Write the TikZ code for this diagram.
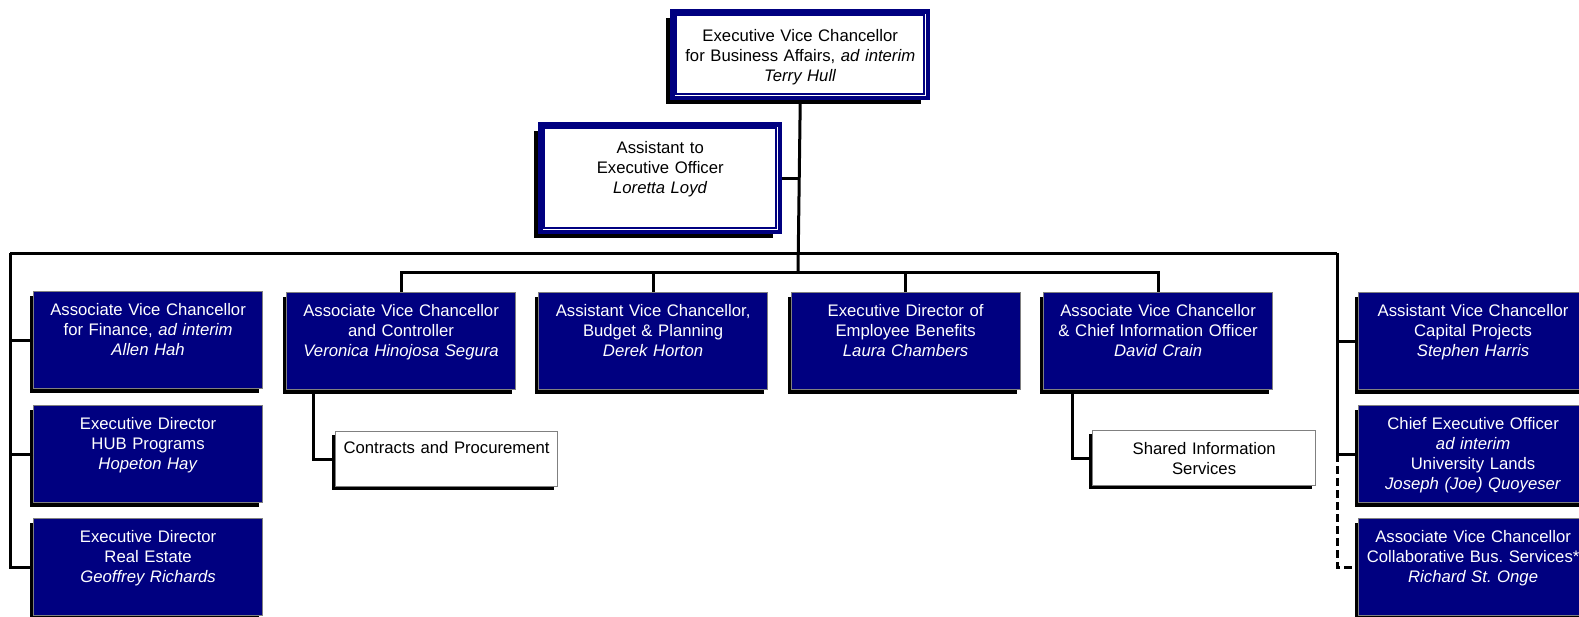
\documentclass[tikz,border=0pt]{standalone}
\usepackage{fontspec}
\setmainfont{Liberation Sans}
\usetikzlibrary{shadows}
\definecolor{navy}{RGB}{0,0,128}
\definecolor{boxgray}{RGB}{128,128,128}
\frenchspacing
\begin{document}
\begin{tikzpicture}[x=1pt,y=-1pt,
  txt/.style={font=\fontsize{16.7}{20}\selectfont},
  conn/.style={line width=3pt, black},
  dconn/.style={conn, dash pattern=on 8pt off 4pt},
  navybox/.style={txt, draw=boxgray, line width=1.2pt, fill=navy, text=white,
    text width=225pt, inner xsep=2pt, inner ysep=0pt, align=center,
    text height=24pt, text depth=73pt, anchor=north west,
    general shadow={fill=black, shadow xshift=-3.5pt, shadow yshift=-4pt}},
  whitebox/.style={txt, draw=boxgray, line width=1.2pt, fill=white, text=black,
    inner xsep=0pt, inner ysep=0pt, align=center, anchor=north west,
    general shadow={fill=black, shadow xshift=-3.5pt, shadow yshift=-3.5pt}},
  execbox/.style={txt, draw=navy, line width=4.5pt, fill=white, text=black,
    inner xsep=0pt, inner ysep=0pt, align=center, anchor=north west,
    general shadow={fill=black, shadow xshift=-7pt, shadow yshift=-6pt}},
  innerframe/.style={draw=navy, line width=1.8pt}
]
\useasboundingbox (0,0) rectangle (1579,616);

% top executive
\node[execbox, text width=255.5pt, text height=29.75pt, text depth=56.75pt]
  (top) at (670.25,9.25)
  {Executive Vice Chancellor\\for Business Affairs, \textit{ad interim}\\\textit{Terry Hull}};
\draw[innerframe] ([shift={(5.9,5.9)}]top.north west) rectangle ([shift={(-5.9,-5.9)}]top.south east);

% assistant
\node[execbox, text width=239.5pt, text height=28.75pt, text depth=78.75pt]
  (assist) at (538.25,122.25)
  {Assistant to\\Executive Officer\\\textit{Loretta Loyd}};
\draw[innerframe] ([shift={(5.9,5.9)}]assist.north west) rectangle ([shift={(-5.9,-5.9)}]assist.south east);

% left column
\node[navybox] (fin) at (33,291)
  {Associate Vice Chancellor\\for Finance, \textit{ad interim}\\\textit{Allen Hah}};
\node[navybox] (hub) at (33,405)
  {Executive Director\\HUB Programs\\\textit{Hopeton Hay}};
\node[navybox] (redir) at (33,518)
  {Executive Director\\Real Estate\\\textit{Geoffrey Richards}};

% middle row
\node[navybox] (ctrl) at (286,292)
  {Associate Vice Chancellor\\and Controller\\\textit{Veronica Hinojosa Segura}};
\node[navybox] (budget) at (538,292)
  {Assistant Vice Chancellor,\\Budget \& Planning\\\textit{Derek Horton}};
\node[navybox] (benefits) at (790.5,292)
  {Executive Director of\\Employee Benefits\\\textit{Laura Chambers}};
\node[navybox] (cio) at (1043,292)
  {Associate Vice Chancellor\\\& Chief Information Officer\\\textit{David Crain}};

% right column
\node[navybox] (cap) at (1358,292)
  {Assistant Vice Chancellor\\Capital Projects\\\textit{Stephen Harris}};
\node[navybox] (ceo) at (1358,405)
  {Chief Executive Officer\\\textit{ad interim}\\University Lands\\\textit{Joseph (Joe) Quoyeser}};
\node[navybox] (avccbs) at (1358,518)
  {Associate Vice Chancellor\\Collaborative Bus. Services*\\\textit{Richard St. Onge}};

% white sub boxes
\node[whitebox, text width=222pt, text height=22pt, text depth=33pt] (contracts) at (335,431)
  {Contracts and Procurement};
\node[whitebox, text width=223pt, text height=24pt, text depth=31pt] (shared) at (1092,430)
  {Shared Information\\Services};

% connectors
\coordinate (oL) at (10,253);
\coordinate (oR) at (1337,253);
\coordinate (j) at (798,272);

\draw[conn] (top.south) -- (j);
\draw[conn] (assist.east) -- (assist.east -| top.south);
\draw[conn] (oL) -- (oR);
\draw[conn] (oL) |- (redir.west);
\draw[conn] (fin.west) -- (fin.west -| oL);
\draw[conn] (hub.west) -- (hub.west -| oL);
\draw[conn] (oR) |- (ceo.west);
\draw[conn] (cap.west) -- (cap.west -| oR);
\draw[dconn] (ceo.west -| oR) |- (avccbs.west);

\draw[conn] (ctrl.north) -- (ctrl.north |- j) -| (cio.north);
\draw[conn] (budget.north) -- (budget.north |- j);
\draw[conn] (benefits.north) -- (benefits.north |- j);

\draw[conn] ([xshift=27pt]ctrl.south west) |- (contracts.west);
\draw[conn] ([xshift=29pt]cio.south west) |- (shared.west);
\end{tikzpicture}
\end{document}
